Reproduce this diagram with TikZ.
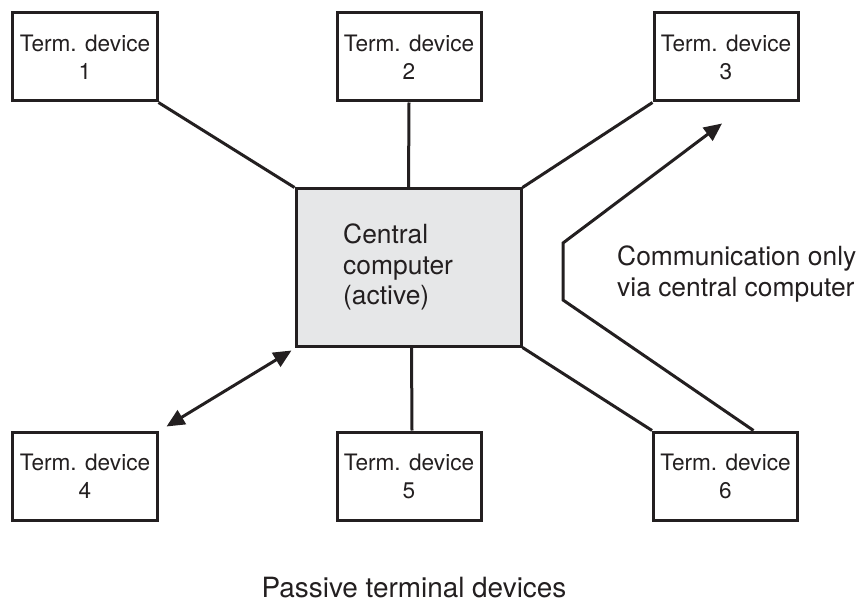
\documentclass[tikz,border=0pt]{standalone}
\usepackage{fontspec}
\setmainfont{TeX Gyre Heros}
\usetikzlibrary{arrows.meta}
\definecolor{ink}{HTML}{231F20}
\definecolor{cfill}{HTML}{E6E7E8}
\tikzset{
  termbox/.style={draw=ink, line width=3bp, fill=white, minimum width=144bp, minimum height=88bp,
    inner sep=0pt, align=center, text=ink, font=\fontsize{22.7}{28}\selectfont},
  centralbox/.style={draw=ink, line width=3bp, fill=cfill, minimum width=225bp, minimum height=157bp, inner sep=0pt},
  link/.style={draw=ink, line width=3bp},
  tip/.style={-{Triangle[length=18bp,width=16bp]}},
  lbl/.style={text=ink, inner sep=0pt, font=\fontsize{26.5}{30.5}\selectfont}
}
\begin{document}
\begin{tikzpicture}[x=1bp,y=-1bp]
\useasboundingbox (0,0) rectangle (859,602);
\node[centralbox] (c) at (408.5,267.5) {};
\node[lbl, align=left, anchor=west] (ctext) at (343,267) {Central\\computer\\(active)};
\node[termbox] (t1) at (85,57) {Term. device\\1};
\node[termbox] (t2) at (409,57) {Term. device\\2};
\node[termbox] (t3) at (726,57) {Term. device\\3};
\node[termbox] (t4) at (85,476) {Term. device\\4};
\node[termbox] (t5) at (409,476) {Term. device\\5};
\node[termbox] (t6) at (725.5,476) {Term. device\\6};
\node[lbl, align=left, anchor=west] (comm) at (617,274) {Communication only\\via central computer};
\node[lbl, anchor=base, font=\fontsize{28}{32}\selectfont] (pass) at (414,597) {Passive terminal devices};
\draw[link] (t1.south east) -- (c.north west);
\draw[link] (t2.south) -- (c.north);
\draw[link] (t3.south west) -- (c.north east);
\draw[link] ([xshift=3bp]c.south) -- ([xshift=3bp]t5.north);
\draw[link] (c.south east) -- (t6.north west);
\draw[link, {Triangle[length=18bp,width=16bp]}-{Triangle[length=18bp,width=16bp]}]
  ([shift={(-3,3)}]c.south west) -- ([shift={(8,-4)}]t4.north east);
\coordinate (p1) at ([xshift=28bp]t6.north);
\coordinate (p2) at (563,300);
\coordinate (p3) at (563,243);
\coordinate (p4) at ([shift={(-4,21)}]t3.south);
\draw[link, tip, line join=miter] (p1) -- (p2) -- (p3) -- (p4);
\end{tikzpicture}
\end{document}
